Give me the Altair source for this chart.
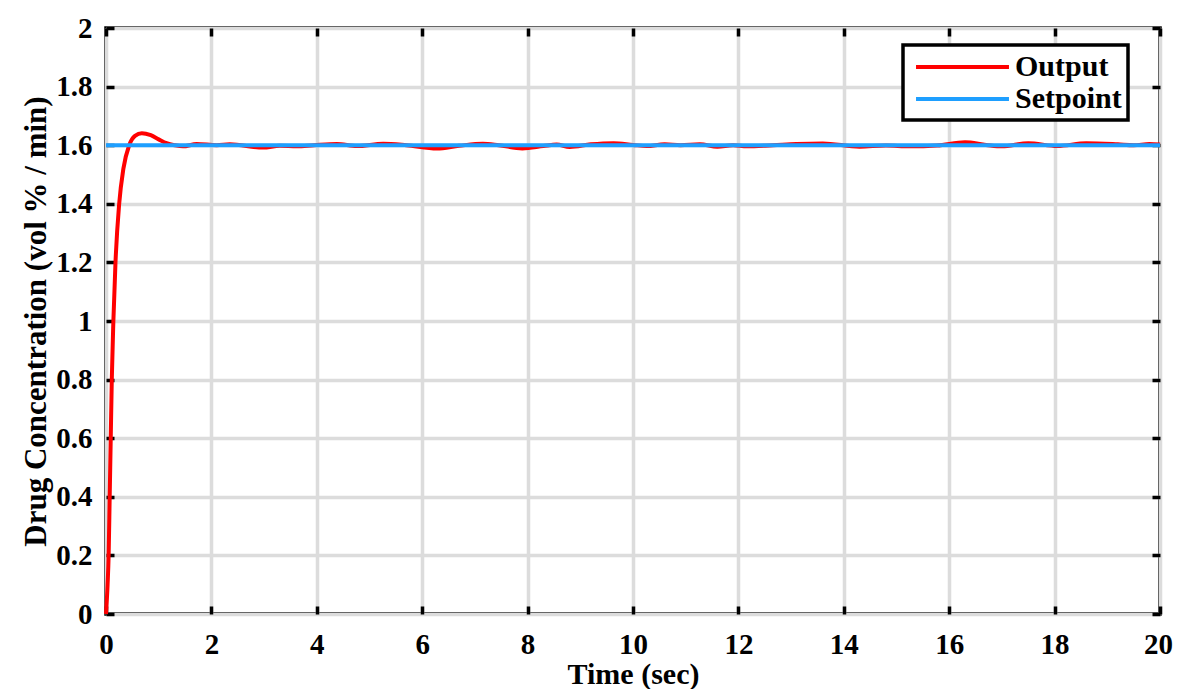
import altair as alt
import pandas as pd

# ---- data ----
t_out = [0, 0.03, 0.05, 0.07, 0.09, 0.11, 0.14, 0.18, 0.25, 0.33, 0.44, 0.55, 0.68, 0.85,
         1.0, 1.15, 1.3, 1.46, 1.72, 2.1, 2.35, 2.98, 3.3, 3.62, 3.95, 4.38, 4.76, 5.26,
         5.7, 6.28, 6.7, 7.15, 7.45, 7.9, 8.3, 8.55, 8.8, 9.2, 9.63, 10.0, 10.26, 10.6,
         10.9, 11.27, 11.6, 11.9, 12.16, 12.66, 13.1, 13.6, 14.3, 14.8, 15.25, 15.77,
         16.3, 16.7, 17.0, 17.5, 18.05, 18.6, 19.2, 19.5, 19.8, 20]
v_out = [0, 0.1, 0.2, 0.4, 0.6, 0.8, 1.0, 1.2, 1.4, 1.52, 1.6, 1.632, 1.641, 1.634,
         1.62, 1.607, 1.600, 1.596, 1.604, 1.600, 1.603, 1.592, 1.598, 1.596, 1.600, 1.604, 1.597, 1.605,
         1.600, 1.589, 1.598, 1.605, 1.600, 1.589, 1.597, 1.602, 1.594, 1.603, 1.607, 1.601, 1.597, 1.603,
         1.600, 1.603, 1.595, 1.600, 1.596, 1.600, 1.604, 1.606, 1.595, 1.599, 1.596, 1.599,
         1.610, 1.601, 1.596, 1.607, 1.597, 1.607, 1.603, 1.600, 1.604, 1.602]
t_set = [0, 20]
v_set = [1.6, 1.6]
series_names = ["Output", "Setpoint"]
series_colors = ["#FF0000", "#1E9FFF"]
x_ticks = [0, 2, 4, 6, 8, 10, 12, 14, 16, 18, 20]
y_ticks = [0, 0.2, 0.4, 0.6, 0.8, 1.0, 1.2, 1.4, 1.6, 1.8, 2.0]

df_out = pd.DataFrame({"t": t_out, "v": v_out, "series": "Output"})
df_set = pd.DataFrame({"t": t_set, "v": v_set, "series": "Setpoint"})

FONT = "Liberation Serif"
TICK_LEN = 8
TICK_W = 3.5
GRID_C = "#dcdcdc"

xscale = alt.Scale(domain=[0, 20], nice=False, zero=False)
yscale = alt.Scale(domain=[0, 2], nice=False)
cscale = alt.Scale(domain=series_names, range=series_colors)

common = dict(tickSize=TICK_LEN, tickWidth=TICK_W, tickColor="black", offset=-TICK_LEN,
              domain=False, labelFont=FONT, labelFontWeight="bold", labelFontSize=29,
              labelColor="black", labelFlush=False, titleFont=FONT, titleFontWeight="bold",
              titleColor="black")

x_bottom = alt.Axis(orient="bottom", values=x_ticks, title="Time (sec)", grid=True,
                    gridColor=GRID_C, gridWidth=3.5, labelPadding=16, titlePadding=0,
                    titleFontSize=30,
                    labelOffset={"condition": {"test": "datum.value == 20", "value": -2},
                                 "value": 0},
                    **common)
y_left = alt.Axis(orient="left", values=y_ticks, title="Drug Concentration (vol % / min)",
                  grid=True, gridColor=GRID_C, gridWidth=3.5, labelPadding=14,
                  titlePadding=3, titleFontSize=31,
                  labelExpr="format(datum.value, '~g')", **common)
x_top = alt.Axis(orient="top", values=x_ticks, title=None, labels=False, grid=False, **common)
y_right = alt.Axis(orient="right", values=y_ticks, title=None, labels=False, grid=False, **common)

legend = alt.Legend(title=None, orient="none", legendX=797, legendY=17,
                    symbolType="M-3.32,0H3.32", symbolSize=784, symbolStrokeWidth=4,
                    symbolOffset=37.5, labelOffset=36.5,
                    labelFont=FONT, labelFontWeight="bold", labelFontSize=30,
                    labelColor="black", padding=6, rowPadding=1,
                    strokeColor="black", fillColor="white")

out_line = alt.Chart(df_out).mark_line(strokeWidth=4, interpolate="monotone").encode(
    x=alt.X("t:Q", scale=xscale, axis=x_bottom),
    y=alt.Y("v:Q", scale=yscale, axis=y_left),
    color=alt.Color("series:N", scale=cscale, legend=legend),
)
set_line = alt.Chart(df_set).mark_line(strokeWidth=4).encode(
    x=alt.X("t:Q", scale=xscale, axis=x_top),
    y=alt.Y("v:Q", scale=yscale, axis=y_right),
    color=alt.Color("series:N", scale=cscale, legend=legend),
)

chart = alt.layer(out_line, set_line).resolve_axis(
    x="independent", y="independent"
).properties(
    width=1054, height=586,
    padding={"left": 98, "top": 20, "right": 13, "bottom": 75},
    autosize=alt.AutoSizeParams(type="none"),
    background="white",
).configure_view(
    stroke="black", strokeWidth=3.5
).configure_legend(
    strokeWidth=3.5
)

chart.save("out.html", embed_options={"renderer": "svg", "actions": False})
